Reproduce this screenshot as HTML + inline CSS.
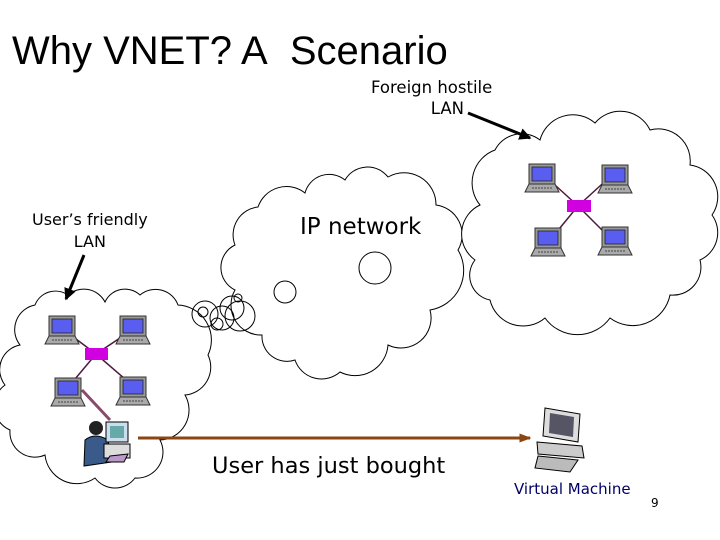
<!DOCTYPE html>
<html><head><style>
body{margin:0;background:#fff;width:720px;height:540px;overflow:hidden;position:relative}
.t{position:absolute;font-family:"Comic Sans MS","DejaVu Sans",sans-serif;color:#000;white-space:nowrap}
</style></head><body>
<svg width="720" height="540" style="position:absolute;left:0;top:0">
<defs>
<g id="lap">
<rect x="2" y="0" width="26" height="20" fill="#999" stroke="#333" stroke-width="1"/>
<rect x="5" y="3" width="20" height="14" fill="#5a5ef0" stroke="#222" stroke-width="0.8"/>
<path d="M2 20 L28 20 L32 28 L-2 28 Z" fill="#aaa" stroke="#333" stroke-width="1"/>
<line x1="5" y1="24" x2="26" y2="24" stroke="#444" stroke-dasharray="2,1"/>
</g>
<marker id="ah" markerWidth="4" markerHeight="4" refX="3.5" refY="2" orient="auto"><path d="M0 0 L4 2 L0 4 Z" fill="#000"/></marker>
<marker id="ah2" markerWidth="4" markerHeight="4" refX="3.5" refY="2" orient="auto"><path d="M0 0.5 L4 2 L0 3.5 Z" fill="#8b4513"/></marker>
</defs>
<g fill="none" stroke="#000" stroke-width="1">
<path d="M5 385 A25 25 0 0 1 20 345 A25 25 0 0 1 35 305 A22 22 0 0 1 68 295 A24 24 0 0 1 105 302 A22 22 0 0 1 140 295 A24 24 0 0 1 178 305 A35 35 0 0 1 208 355 A28 28 0 0 1 185 395 A30 30 0 0 1 160 440 A26 26 0 0 1 135 478 A25 25 0 0 1 95 478 A32 32 0 0 1 45 455 A25 25 0 0 1 10 430 A26 26 0 0 1 5 385 Z"/>
<path d="M235 245 A28 28 0 0 1 258 207 A30 30 0 0 1 305 193 A25 25 0 0 1 345 180 A26 26 0 0 1 388 177 A32 32 0 0 1 436 205 A30 30 0 0 1 458 250 A40 40 0 0 1 430 310 A30 30 0 0 1 388 345 A33 33 0 0 1 340 372 A28 28 0 0 1 295 360 A25 25 0 0 1 262 335 A30 30 0 0 1 235 290 A25 25 0 0 1 235 245 Z" fill="#fff"/>
<path d="M480 205 A35 35 0 0 1 495 150 A30 30 0 0 1 540 140 A34 34 0 0 1 595 123 A33 33 0 0 1 650 130 A32 32 0 0 1 690 165 A32 32 0 0 1 712 215 A30 30 0 0 1 700 260 A28 28 0 0 1 670 295 A38 38 0 0 1 610 318 A40 40 0 0 1 545 318 A34 34 0 0 1 490 300 A25 25 0 0 1 475 260 A32 32 0 0 1 480 205 Z" fill="#fff"/>
<circle cx="375" cy="268" r="16"/>
<circle cx="285" cy="292" r="11"/>
<circle cx="205" cy="314" r="13"/><circle cx="203" cy="312" r="5"/>
<circle cx="222" cy="318" r="12"/><circle cx="217" cy="324" r="6"/>
<circle cx="232" cy="308" r="12"/><circle cx="238" cy="298" r="4"/>
<circle cx="240" cy="316" r="15"/>
</g>
<g stroke="#4a1a3a" stroke-width="1.5">
<line x1="64" y1="330" x2="96" y2="354"/><line x1="132" y1="330" x2="96" y2="354"/>
<line x1="70" y1="385" x2="96" y2="354"/><line x1="132" y1="385" x2="96" y2="354"/>
<line x1="544" y1="175" x2="578" y2="206"/><line x1="612" y1="175" x2="578" y2="206"/>
<line x1="550" y1="240" x2="578" y2="206"/><line x1="612" y1="240" x2="578" y2="206"/>
</g>
<line x1="82" y1="390" x2="110" y2="420" stroke="#8b4a6a" stroke-width="3"/>
<use href="#lap" x="47" y="316"/><use href="#lap" x="118" y="316"/>
<use href="#lap" x="53" y="378"/><use href="#lap" x="118" y="377"/>
<rect x="85" y="348" width="23" height="12" fill="#d000e0"/>
<use href="#lap" x="527" y="164"/><use href="#lap" x="600" y="165"/>
<use href="#lap" x="533" y="228"/><use href="#lap" x="600" y="227"/>
<rect x="567" y="200" width="24" height="12" fill="#d000e0"/>
<circle cx="96" cy="428" r="7" fill="#222"/>
<path d="M85 440 Q95 432 108 440 L112 462 L84 466 Z" fill="#3a5a8a" stroke="#000"/>
<rect x="106" y="422" width="22" height="20" fill="#cde" stroke="#000"/>
<rect x="110" y="426" width="14" height="12" fill="#6aa"/>
<rect x="104" y="444" width="26" height="14" fill="#ddd" stroke="#000"/>
<path d="M110 456 L128 454 L124 462 L106 462 Z" fill="#b9c" stroke="#000"/>
<path d="M545 408 L580 414 L578 442 L543 436 Z" fill="#ddd" stroke="#000"/>
<path d="M550 413 L574 417 L573 437 L549 433 Z" fill="#556"/>
<path d="M537 442 L582 446 L584 458 L538 454 Z" fill="#ccc" stroke="#000"/>
<path d="M538 456 L578 460 L570 472 L535 468 Z" fill="#bbb" stroke="#000"/>
<line x1="138" y1="438" x2="530" y2="438" stroke="#8b4513" stroke-width="3" marker-end="url(#ah2)"/>
<line x1="468" y1="113" x2="530" y2="138" stroke="#000" stroke-width="3" marker-end="url(#ah)"/>
<line x1="84" y1="255" x2="66" y2="299" stroke="#000" stroke-width="3" marker-end="url(#ah)"/>
</svg>
<div class="t" style="left:12px;top:29px;font-family:'Liberation Sans',sans-serif;font-size:40px">Why VNET? A&nbsp; Scenario</div>
<div class="t" style="left:371px;top:77px;font-size:16.5px;text-align:center;line-height:21px">Foreign hostile<br>&nbsp;&nbsp;&nbsp;&nbsp;&nbsp;&nbsp;LAN</div>
<div class="t" style="left:32px;top:209px;font-size:16px;text-align:center;line-height:22px">User’s friendly<br>LAN</div>
<div class="t" style="left:300px;top:214px;font-size:23px">IP network</div>
<div class="t" style="left:212px;top:453px;font-size:22.5px">User has just bought</div>
<div class="t" style="left:514px;top:480px;font-size:15px;color:#000066">Virtual Machine</div>
<div class="t" style="left:651px;top:496px;font-size:12px">9</div>
</body></html>
